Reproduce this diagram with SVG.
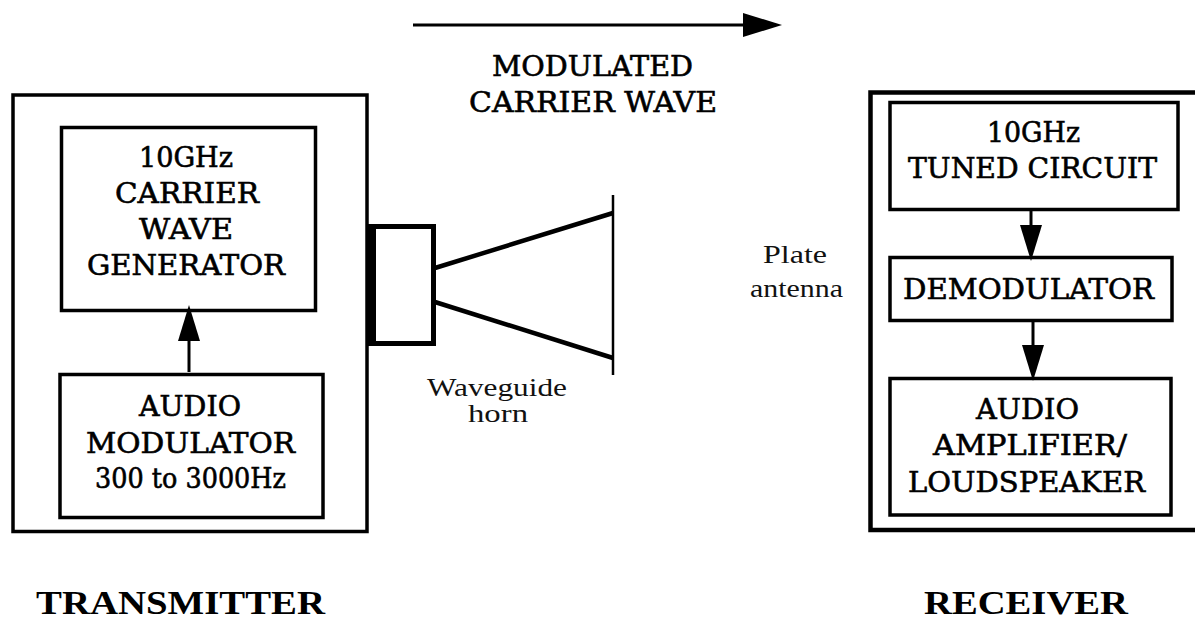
<svg xmlns="http://www.w3.org/2000/svg" width="1195" height="619" viewBox="0 0 1195 619">
<style>
  .box { fill: none; stroke: #000; stroke-width: 3.5; }
  .outer { fill: none; stroke: #000; stroke-width: 3.5; }
  .conn { stroke: #000; stroke-width: 3; fill: none; }
  .horn { stroke: #000; stroke-width: 4.5; fill: none; }
  .lbl { font-family: "DejaVu Serif", "Liberation Serif", serif; font-size: 27.5px; text-anchor: middle; fill: #000; stroke: #000; stroke-width: 0.6; }
  .note { font-family: "Liberation Serif", "DejaVu Serif", serif; font-size: 25px; text-anchor: middle; fill: #111; }
  .title { font-family: "Liberation Serif", "DejaVu Serif", serif; font-size: 34px; font-weight: bold; fill: #000; }
</style>
<defs>
  <marker id="head" viewBox="0 0 36 22" refX="0" refY="11" markerWidth="36" markerHeight="22" markerUnits="userSpaceOnUse" orient="auto">
    <path d="M0,0 L36,11 L0,22 Z" fill="#000"/>
  </marker>
  <marker id="headL" viewBox="0 0 39 24" refX="0" refY="12" markerWidth="39" markerHeight="24" markerUnits="userSpaceOnUse" orient="auto">
    <path d="M0,0 L39,12 L0,24 Z" fill="#000"/>
  </marker>
</defs>
<rect width="1195" height="619" fill="#fff"/>

<g id="transmitter">
  <rect class="outer" x="13" y="95" width="354" height="436.5"/>
</g>
<g id="carrier-generator">
  <rect class="box" x="61.5" y="127.5" width="254" height="183"/>
  <text class="lbl" x="186" y="167" textLength="94" lengthAdjust="spacingAndGlyphs">10GHz</text>
  <text class="lbl" x="187" y="202.5" textLength="144" lengthAdjust="spacingAndGlyphs">CARRIER</text>
  <text class="lbl" x="186" y="239" textLength="94" lengthAdjust="spacingAndGlyphs">WAVE</text>
  <text class="lbl" x="186" y="275" textLength="198" lengthAdjust="spacingAndGlyphs">GENERATOR</text>
</g>
<g id="audio-modulator">
  <rect class="box" x="60" y="374.5" width="263" height="143"/>
  <text class="lbl" x="190" y="416" textLength="102" lengthAdjust="spacingAndGlyphs">AUDIO</text>
  <text class="lbl" x="190.5" y="452.5" textLength="209" lengthAdjust="spacingAndGlyphs">MODULATOR</text>
  <text class="lbl" x="190.5" y="488" textLength="191" lengthAdjust="spacingAndGlyphs">300 to 3000Hz</text>
</g>
<g id="waveguide-horn">
  <rect x="367" y="224" width="9" height="122" fill="#000"/>
  <rect x="369.5" y="226.5" width="64" height="117" fill="none" stroke="#000" stroke-width="5"/>
  <line class="horn" x1="435" y1="268" x2="613" y2="213"/>
  <line class="horn" x1="435" y1="302" x2="613" y2="358"/>
  <line x1="613" y1="195" x2="613" y2="375" stroke="#000" stroke-width="2.5"/>
  <text class="note" x="497" y="396" textLength="140" lengthAdjust="spacingAndGlyphs">Waveguide</text>
  <text class="note" x="498" y="422" textLength="60" lengthAdjust="spacingAndGlyphs">horn</text>
</g>
<g id="plate-antenna">
  <text class="note" x="795" y="263" textLength="64" lengthAdjust="spacingAndGlyphs">Plate</text>
  <text class="note" x="796.5" y="296.5" textLength="93" lengthAdjust="spacingAndGlyphs">antenna</text>
</g>
<g id="modulated-carrier-wave">
  <text class="lbl" x="592.5" y="76" textLength="201" lengthAdjust="spacingAndGlyphs">MODULATED</text>
  <text class="lbl" x="593" y="111.5" textLength="248" lengthAdjust="spacingAndGlyphs">CARRIER WAVE</text>
</g>

<g id="receiver">
  <rect x="870.5" y="92.5" width="340" height="437.5" fill="none" stroke="#000" stroke-width="4.5"/>
</g>
<g id="tuned-circuit">
  <rect class="box" x="890" y="102.5" width="288" height="107"/>
  <text class="lbl" x="1033.5" y="142" textLength="93" lengthAdjust="spacingAndGlyphs">10GHz</text>
  <text class="lbl" x="1032.5" y="178" textLength="249" lengthAdjust="spacingAndGlyphs">TUNED CIRCUIT</text>
</g>
<g id="demodulator">
  <rect class="box" x="890" y="257.5" width="282" height="63"/>
  <text class="lbl" x="1028.5" y="299" textLength="251" lengthAdjust="spacingAndGlyphs">DEMODULATOR</text>
</g>
<g id="audio-amplifier">
  <rect class="box" x="890" y="378.5" width="281" height="136.5"/>
  <text class="lbl" x="1027.5" y="419" textLength="103" lengthAdjust="spacingAndGlyphs">AUDIO</text>
  <text class="lbl" x="1030" y="455" textLength="194" lengthAdjust="spacingAndGlyphs">AMPLIFIER/</text>
  <text class="lbl" x="1026.5" y="491.5" textLength="237" lengthAdjust="spacingAndGlyphs">LOUDSPEAKER</text>
</g>

<g id="titles">
  <text class="title" x="36" y="614" textLength="289" lengthAdjust="spacingAndGlyphs">TRANSMITTER</text>
  <text class="title" x="924" y="614" textLength="204" lengthAdjust="spacingAndGlyphs">RECEIVER</text>
</g>

<g id="connectors">
  <line class="conn" x1="413" y1="25" x2="743" y2="25" marker-end="url(#headL)"/>
  <line class="conn" x1="189" y1="372" x2="189" y2="341" marker-end="url(#head)"/>
  <line class="conn" x1="1031" y1="209" x2="1031" y2="225" marker-end="url(#head)"/>
  <line class="conn" x1="1033" y1="321" x2="1033" y2="345" marker-end="url(#head)"/>
</g>
</svg>
